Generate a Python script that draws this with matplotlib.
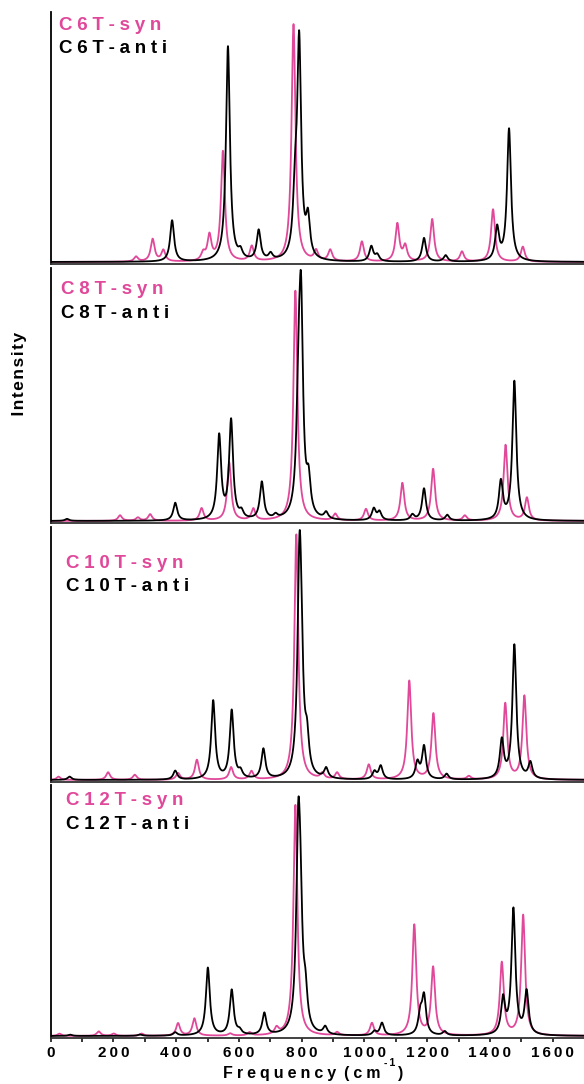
import numpy as np
import matplotlib
matplotlib.use("Agg")
import matplotlib.pyplot as plt

# ---- peak lists (frequency in cm^-1, relative intensity) ----
C6T_syn_freq = [272, 325, 359, 486, 506, 549, 641, 774, 846, 891, 992, 1105, 1130, 1216, 1311, 1410, 1505]
C6T_syn_int = [0.02, 0.09, 0.045, 0.03, 0.10, 0.44, 0.06, 0.95, 0.04, 0.045, 0.08, 0.15, 0.06, 0.17, 0.04, 0.21, 0.06]
C6T_anti_freq = [387, 565, 605, 663, 701, 779, 792, 820, 1022, 1041, 1190, 1259, 1423, 1461]
C6T_anti_int = [0.165, 0.86, 0.03, 0.12, 0.025, 0.22, 0.86, 0.15, 0.06, 0.025, 0.095, 0.025, 0.13, 0.53]

C8T_syn_freq = [221, 278, 317, 481, 569, 646, 780, 907, 1005, 1121, 1219, 1320, 1450, 1518]
C8T_syn_int = [0.022, 0.013, 0.026, 0.049, 0.23, 0.046, 0.91, 0.026, 0.046, 0.149, 0.205, 0.02, 0.30, 0.09]
C8T_anti_freq = [52, 397, 537, 575, 608, 673, 717, 790, 798, 822, 878, 1030, 1048, 1153, 1190, 1264, 1435, 1478]
C8T_anti_int = [0.008, 0.07, 0.33, 0.39, 0.026, 0.148, 0.015, 0.40, 0.78, 0.13, 0.026, 0.046, 0.033, 0.022, 0.127, 0.022, 0.15, 0.55]

C10T_syn_freq = [25, 183, 268, 406, 466, 575, 640, 783, 866, 913, 1014, 1143, 1220, 1333, 1449, 1510]
C10T_syn_int = [0.013, 0.03, 0.02, 0.026, 0.079, 0.049, 0.033, 0.97, 0.022, 0.026, 0.059, 0.39, 0.26, 0.013, 0.30, 0.33]
C10T_anti_freq = [60, 397, 518, 577, 605, 678, 793, 799, 817, 878, 1032, 1052, 1169, 1190, 1262, 1438, 1478, 1529]
C10T_anti_int = [0.013, 0.035, 0.31, 0.27, 0.026, 0.118, 0.78, 0.30, 0.13, 0.04, 0.03, 0.053, 0.065, 0.13, 0.022, 0.15, 0.53, 0.063]

C12T_syn_freq = [28, 153, 201, 290, 406, 458, 572, 634, 720, 780, 913, 1024, 1159, 1219, 1438, 1506]
C12T_syn_int = [0.009, 0.018, 0.009, 0.009, 0.05, 0.069, 0.009, 0.013, 0.026, 0.92, 0.013, 0.05, 0.44, 0.27, 0.29, 0.48]
C12T_anti_freq = [62, 284, 397, 501, 577, 602, 681, 789, 796, 812, 875, 1032, 1056, 1178, 1190, 1256, 1442, 1475, 1517]
C12T_anti_int = [0.005, 0.005, 0.013, 0.27, 0.18, 0.016, 0.087, 0.72, 0.38, 0.13, 0.03, 0.016, 0.05, 0.08, 0.15, 0.016, 0.14, 0.50, 0.17]

panel_names = ["C6T", "C8T", "C10T", "C12T"]
syn_peaks = [(C6T_syn_freq, C6T_syn_int), (C8T_syn_freq, C8T_syn_int),
             (C10T_syn_freq, C10T_syn_int), (C12T_syn_freq, C12T_syn_int)]
anti_peaks = [(C6T_anti_freq, C6T_anti_int), (C8T_anti_freq, C8T_anti_int),
              (C10T_anti_freq, C10T_anti_int), (C12T_anti_freq, C12T_anti_int)]

x_ticks = [0, 200, 400, 600, 800, 1000, 1200, 1400, 1600]

PINK = "#E0489A"
FONT = ["Liberation Sans", "DejaVu Sans"]
HWHM = 7.5


def lorentzian_sum(freqs, ints, grid, hwhm=HWHM):
    y = np.zeros_like(grid)
    for f0, a in zip(freqs, ints):
        y += a * hwhm ** 2 / ((grid - f0) ** 2 + hwhm ** 2)
    return y


def spaced(text, gap="\u2005"):
    return gap.join(text)


W, H = 584, 1084
fig = plt.figure(figsize=(W / 100, H / 100), dpi=100)

# panel extents in pixels (top, bottom)
panels_px = [(12, 264), (268, 523), (527, 782), (785, 1038)]
label_px = [(59, 30, 53), (61, 294, 318), (66, 568, 591), (66, 805, 829)]
left_px, right_px = 50.7, 584.0

grid = np.linspace(0, 1700, 6000)
axes = []
for i, (top, bot) in enumerate(panels_px):
    ax = fig.add_axes([left_px / W, (H - bot) / H, (right_px - left_px) / W, (bot - top) / H])
    sf, si = syn_peaks[i]
    af, ai = anti_peaks[i]
    ax.plot(grid, lorentzian_sum(sf, si, grid), color=PINK, lw=1.3, zorder=2)
    ax.plot(grid, lorentzian_sum(af, ai, grid), color="black", lw=1.3, zorder=3)
    ax.set_xlim(0, 1700)
    ax.set_ylim(-0.008, 1.0)
    for s in ("top", "right"):
        ax.spines[s].set_visible(False)
    ax.spines["left"].set_linewidth(1.3)
    ax.spines["bottom"].set_linewidth(1.3)
    ax.spines["bottom"].set_color("#333333")
    ax.set_yticks([])
    ax.patch.set_alpha(0)
    if i < 3:
        ax.set_xticks([])
    else:
        ax.set_xticks(x_ticks)
        ax.set_xticks(np.arange(100, 1700, 200), minor=True)
        ax.set_xticklabels([spaced(str(v), "\u2009") for v in x_ticks],
                           fontfamily=FONT, fontweight="bold", fontsize=11)
        ax.tick_params(axis="x", which="both", direction="out", length=3, width=1.1, pad=3)
    axes.append(ax)

    lx, ys, ya = label_px[i]
    name = panel_names[i]
    fig.text(lx / W, 1 - ys / H, spaced(name + "-syn"), color=PINK, fontsize=13.5,
             fontweight="bold", family=FONT, ha="left", va="baseline")
    fig.text(lx / W, 1 - ya / H, spaced(name + "-anti"), color="black", fontsize=13.5,
             fontweight="bold", family=FONT, ha="left", va="baseline")

# y label
fig.text(20 / W, 1 - 374 / H, "\u200aI\u200an\u200at\u200ae\u200an\u200as\u200ai\u200at\u200ay",
         rotation=90, fontsize=12.5, fontweight="bold", family=FONT,
         ha="center", va="center")

# x label with superscript, pieced together
renderer = fig.canvas.get_renderer()
base_y = 1 - 1078 / H
t1 = fig.text(223 / W, base_y, spaced("Frequency") + "\u2005\u2005" + spaced("(cm"),
              fontsize=11.5, fontweight="bold", family=FONT, ha="left", va="baseline")
bb = t1.get_window_extent(renderer)
x_sup = bb.x1 + 3
t2 = fig.text(x_sup / W, 1 - 1066 / H, "-\u20091", fontsize=7.5, fontweight="bold",
              family=FONT, ha="left", va="baseline")
bb2 = t2.get_window_extent(renderer)
fig.text((bb2.x1 + 3) / W, base_y, ")", fontsize=11.5, fontweight="bold",
         family=FONT, ha="left", va="baseline")

fig.savefig("out.png", dpi=100)
